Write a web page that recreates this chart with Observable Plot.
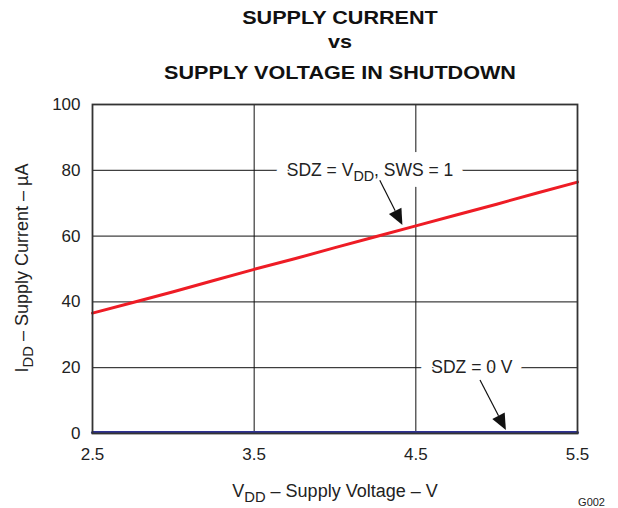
<!DOCTYPE html>
<html><head><meta charset="utf-8">
<script src="https://cdn.jsdelivr.net/npm/d3@7"></script>
<script src="https://cdn.jsdelivr.net/npm/@observablehq/plot@0.6"></script>
<style>body{margin:0;background:#fff;font-family:"Liberation Sans",Arial,sans-serif}</style>
</head><body><div id="chart"></div>
<script>
// Data
const vdd = [2.5, 2.75, 3.0, 3.25, 3.5, 3.75, 4.0, 4.25, 4.5, 4.75, 5.0, 5.25, 5.5];
const iddSws1 = [36.6, 39.8, 43.1, 46.5, 49.9, 53.1, 56.5, 59.8, 63.1, 66.4, 69.7, 73.1, 76.4];
const iddSdz0 = [0.3, 0.3, 0.3, 0.3, 0.3, 0.3, 0.3, 0.3, 0.3, 0.3, 0.3, 0.3, 0.3];
const xTicks = [2.5, 3.5, 4.5, 5.5];
const yTicks = [0, 20, 40, 60, 80, 100];
const titleLines = ["SUPPLY CURRENT", "vs", "SUPPLY VOLTAGE IN SHUTDOWN"];
// annotations: label anchor, arrow start, arrow tip (data coords)
const annLabels = [
  {x: 4.22, y: 80, parts: [["SDZ = V", false], ["DD", true], [", SWS = 1", false]]},
  {x: 4.85, y: 20, parts: [["SDZ = 0 V", false]]}
];
const arrowStart = [[4.28, 76.8], [4.9, 16.1]];
const arrowTip = [[4.42, 63.2], [5.06, 0.9]];

const rows = vdd.flatMap((v, i) => [
  {v, i: iddSws1[i], s: "SWS = 1"},
  {v, i: iddSdz0[i], s: "SDZ = 0 V"}
]);

const svgNS = "http://www.w3.org/2000/svg";
function el(name, attrs, parent) {
  const e = document.createElementNS(svgNS, name);
  for (const k in attrs) e.setAttribute(k, attrs[k]);
  if (parent) parent.appendChild(e);
  return e;
}
function richText(g, parts, attrs, size) {
  const t = el("text", attrs, g);
  let prevSub = false;
  for (const [s, sub] of parts) {
    const a = sub ? {"font-size": size * 0.82, dy: size * 0.3} : {"font-size": size, dy: prevSub ? -size * 0.3 : 0};
    const ts = el("tspan", a, t);
    ts.textContent = s;
    prevSub = sub;
  }
  return t;
}

const chart = Plot.plot({
  width: 618,
  height: 508,
  marginLeft: 92,
  marginRight: 41,
  marginTop: 104,
  marginBottom: 75,
  style: {fontFamily: "'Liberation Sans', Arial, sans-serif", fontSize: "17px", color: "#222", background: "#fff"},
  x: {domain: [2.5, 5.5], ticks: xTicks, tickFormat: d => d.toFixed(1), tickSize: 0, tickPadding: 14, label: null},
  y: {domain: [0, 100], ticks: yTicks, tickSize: 0, tickPadding: 12, label: null},
  color: {domain: ["SWS = 1", "SDZ = 0 V"], range: ["#ee1c25", "#2e3192"]},
  marks: [
    Plot.ruleY(yTicks.filter(d => d > 0 && d < 100), {stroke: "#111", strokeWidth: 1}),
    Plot.ruleX(xTicks.filter(d => d > 2.5 && d < 5.5), {stroke: "#111", strokeWidth: 1}),
    // label halos, arrows, labels
    (index, scales, values, dims) => {
      const g = el("g", {"font-family": "'Liberation Sans', Arial, sans-serif"});
      const {x, y} = scales;
      annLabels.forEach(a => {
        richText(g, a.parts, {x: x(a.x), y: y(a.y) + 6, "text-anchor": "middle", fill: "#fff",
          stroke: "#fff", "stroke-width": 22, "stroke-linejoin": "round"}, 17.5);
      });
      arrowStart.forEach((s, k) => {
        const x0 = x(s[0]), y0 = y(s[1]), x1 = x(arrowTip[k][0]), y1 = y(arrowTip[k][1]);
        const dx = x1 - x0, dy = y1 - y0, L = Math.hypot(dx, dy), ux = dx / L, uy = dy / L;
        const hl = 16, hw = 7;
        const bx = x1 - ux * hl, by = y1 - uy * hl;
        el("line", {x1: x0, y1: y0, x2: bx, y2: by, stroke: "#111", "stroke-width": 1.2}, g);
        el("polygon", {points: `${x1},${y1} ${bx - uy * hw},${by + ux * hw} ${bx + uy * hw},${by - ux * hw}`, fill: "#111"}, g);
      });
      annLabels.forEach(a => {
        richText(g, a.parts, {x: x(a.x), y: y(a.y) + 6, "text-anchor": "middle", fill: "#222"}, 17.5);
      });
      return g;
    },
    Plot.line(rows, {x: "v", y: "i", stroke: "s", strokeWidth: 3}),
    Plot.frame({stroke: "#333", strokeWidth: 1.8}),
    (index, scales, values, dims) => {
      const g = el("g", {"font-family": "'Liberation Sans', Arial, sans-serif"});
      const cx = 340;
      const baselines = [24, 48, 79];
      titleLines.forEach((s, k) => {
        const t = el("text", {x: 0, y: 0, transform: `translate(${cx},${baselines[k]}) scale(1.2,1)`,
          "text-anchor": "middle", "font-weight": "bold", "font-size": 18, fill: "#111"}, g);
        t.textContent = s;
      });
      richText(g, [["V", false], ["DD", true], [" – Supply Voltage – V", false]],
        {x: 335, y: 497, "text-anchor": "middle", fill: "#222"}, 18);
      richText(g, [["I", false], ["DD", true], [" – Supply Current – µA", false]],
        {x: 0, y: 0, "text-anchor": "middle", fill: "#222", transform: "translate(28,268) rotate(-90)"}, 18);
      const c = el("text", {x: 605, y: 506, "text-anchor": "end", "font-size": 11, fill: "#222"}, g);
      c.textContent = "G002";
      return g;
    }
  ]
});
document.getElementById("chart").appendChild(chart);
</script></body></html>
